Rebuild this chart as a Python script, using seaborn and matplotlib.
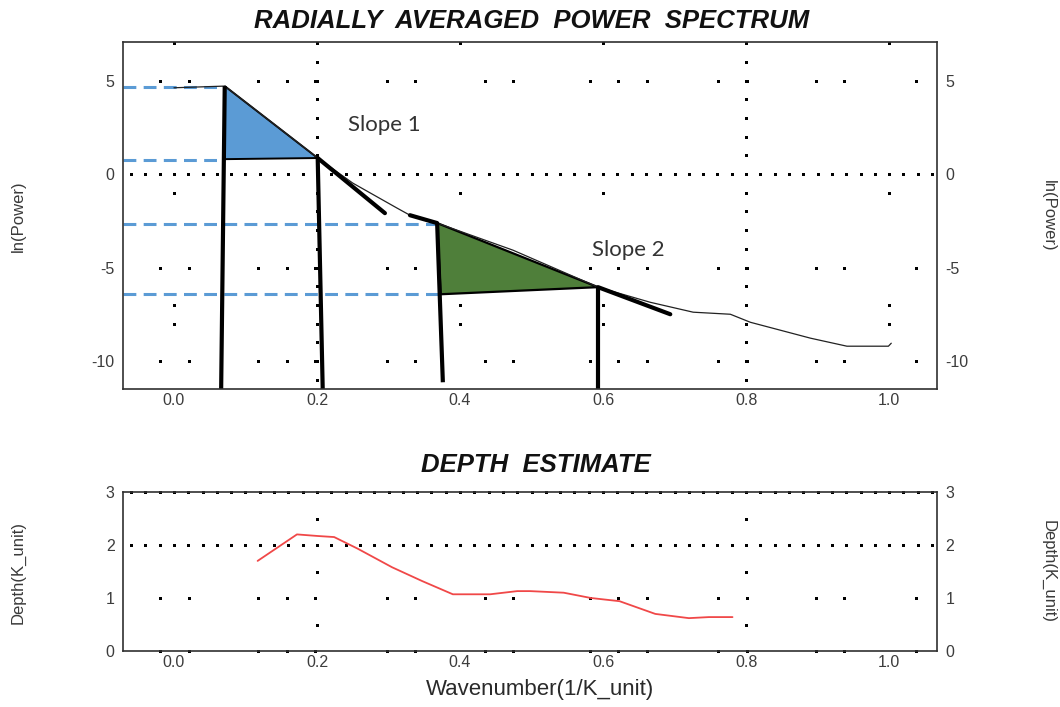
import numpy as np
import pandas as pd
import matplotlib
matplotlib.use("Agg")
import matplotlib.pyplot as plt
import seaborn as sns

# ---- radially averaged power spectrum: wavenumber vs ln(power) ----
power_k = [0.0, 0.071, 0.201, 0.250, 0.312, 0.330, 0.368, 0.474, 0.593,
           0.666, 0.726, 0.778, 0.806, 0.890, 0.941, 0.999, 1.003]
power_ln = [4.62, 4.71, 0.86, -0.48, -1.82, -2.20, -2.62, -4.07, -6.05,
            -6.86, -7.39, -7.50, -7.93, -8.78, -9.21, -9.21, -9.05]

# ---- depth estimate ----
depth_k = [0.117, 0.172, 0.201, 0.224, 0.257, 0.305, 0.347, 0.390, 0.442,
           0.480, 0.498, 0.545, 0.583, 0.623, 0.673, 0.720, 0.748, 0.781]
depth_val = [1.70, 2.20, 2.17, 2.15, 1.93, 1.58, 1.32, 1.07, 1.07,
             1.13, 1.13, 1.10, 1.00, 0.94, 0.70, 0.62, 0.64, 0.64]

# ---- slope construction triangles ----
slope1_k = [0.071, 0.071, 0.201]
slope1_ln = [4.71, 0.80, 0.86]
slope1_ext_k = [0.201, 0.295]
slope1_ext_ln = [0.86, -2.09]

slope2_k = [0.368, 0.373, 0.593]
slope2_ln = [-2.62, -6.43, -6.05]
slope2_lead_k = [0.330, 0.368]
slope2_lead_ln = [-2.20, -2.62]
slope2_ext_k = [0.593, 0.694]
slope2_ext_ln = [-6.05, -7.50]

# drop lines from the triangle corners down to the axis
drop_k_top = [0.071, 0.201, 0.368, 0.593]
drop_ln_top = [4.71, 0.86, -2.62, -6.05]
drop_k_bottom = [0.066, 0.208, 0.376, 0.593]
drop_ln_bottom = [-11.5, -11.5, -11.14, -11.5]

# ln(Power) levels
level_ln = [4.68, 0.75, -2.68, -6.43]
level_k_end = [0.071, 0.068, 0.368, 0.373]

x_ticks = [0.0, 0.2, 0.4, 0.6, 0.8, 1.0]
x_ticklabels = ["0.0", "0.2", "0.4", "0.6", "0.8", "1.0"]
ln_ticks = [5, 0, -5, -10]
depth_ticks = [0, 1, 2, 3]

XLIM = (-0.0713, 1.067)
LN_LIM = (-11.5, 7.07)
DEPTH_LIM = (0.0, 3.0)

sns.set_theme(style="white")
plt.rcParams["font.family"] = ["Liberation Sans", "DejaVu Sans"]
plt.rcParams["axes.unicode_minus"] = False

DPI = 100
fig = plt.figure(figsize=(10.6, 7.07), dpi=DPI)
ax1 = fig.add_axes([0.116, 0.4498, 0.768, 0.4908])
ax2 = fig.add_axes([0.116, 0.0792, 0.768, 0.2249])

DOT_PT = 3.0 * 72.0 / DPI


def dot_row(ax, y, xs):
    """Horizontal grid line rendered as a row of square dots."""
    ax.plot(xs, [y] * len(xs), ls="none", marker="s", ms=DOT_PT, mew=0,
            color="black", zorder=0.6, clip_on=False)


def dot_col(ax, x, ys):
    """Vertical grid line rendered as a column of square dots."""
    ax.plot([x] * len(ys), ys, ls="none", marker="s", ms=DOT_PT, mew=0,
            color="black", zorder=0.6, clip_on=False)


dense_k = list(np.round(np.arange(-0.06, 1.061, 0.02), 3))
sparse_k = [-0.020, 0.021, 0.117, 0.158, 0.197, 0.298, 0.337, 0.435, 0.474,
            0.582, 0.621, 0.662, 0.761, 0.801, 0.898, 0.937, 1.038]

# --- grid of the spectrum panel ---
dot_row(ax1, 0, dense_k)
for lvl in (5, -5, -10):
    dot_row(ax1, lvl, sparse_k)
for kx in (0.2, 0.8):
    dot_col(ax1, kx, list(range(-11, 8)))
for kx in (0.0, 0.4, 0.6, 1.0):
    dot_col(ax1, kx, [-8, -7, -1, 7])

# --- grid of the depth panel ---
for lvl in (3, 2):
    dot_row(ax2, lvl, dense_k)
for lvl in (1, 0):
    dot_row(ax2, lvl, sparse_k)
for kx in (0.2, 0.8):
    dot_col(ax2, kx, [0.5, 1.5, 2.5])

# --- spectrum panel content ---
ax1.fill(slope1_k, slope1_ln, facecolor="#5B9BD5", edgecolor="black",
         lw=1.4, zorder=2)
ax1.fill(slope2_k, slope2_ln, facecolor="#4F7F3A", edgecolor="black",
         lw=1.6, zorder=2)

ax1.hlines(level_ln, XLIM[0], level_k_end, colors="#5B9BD5", lw=2.2,
           linestyles=(0, (4.2, 2.4)), zorder=2.5)

spec = pd.DataFrame({"k": power_k, "ln": power_ln})
sns.lineplot(data=spec, x="k", y="ln", ax=ax1, color="#222222", lw=0.9,
             sort=False, zorder=3)

for kx, ly in ((slope1_ext_k, slope1_ext_ln), (slope2_lead_k, slope2_lead_ln),
               (slope2_ext_k, slope2_ext_ln)):
    ax1.plot(kx, ly, color="black", lw=3.0, solid_capstyle="round", zorder=4)

for kt, lt, kb, lb in zip(drop_k_top, drop_ln_top, drop_k_bottom, drop_ln_bottom):
    ax1.plot([kt, kb], [lt, lb], color="black", lw=3.0, solid_capstyle="butt",
             zorder=4, clip_on=False)

slope_font = ["Lato", "DejaVu Sans"]
ax1.text(0.243, 2.62, "Slope 1", fontsize=16, family=slope_font,
         color="#333333", va="center", ha="left", zorder=5)
ax1.text(0.585, -4.07, "Slope 2", fontsize=16, family=slope_font,
         color="#333333", va="center", ha="left", zorder=5)

# --- depth panel content ---
dep = pd.DataFrame({"k": depth_k, "d": depth_val})
sns.lineplot(data=dep, x="k", y="d", ax=ax2, color="#F04848", lw=1.3, zorder=3)

# --- axes styling ---
tick_color = "#3c3c3c"
for ax, yt, ylim in ((ax1, ln_ticks, LN_LIM), (ax2, depth_ticks, DEPTH_LIM)):
    ax.set_xlim(*XLIM)
    ax.set_ylim(*ylim)
    ax.set_xticks(x_ticks)
    ax.set_xticklabels(x_ticklabels)
    ax.set_yticks(yt)
    ax.set_xlabel("")
    ax.set_ylabel("")
    ax.grid(False)
    ax.tick_params(axis="both", length=0, labelsize=11.5, labelcolor=tick_color,
                   pad=3)
    ax.tick_params(axis="y", labelright=True, pad=6)
    for sp in ax.spines.values():
        sp.set_color("#303030")
        sp.set_linewidth(1.2)
        sp.set_zorder(6)

# titles and axis labels
title_kw = dict(ha="center", va="center", fontsize=18.5, fontweight="bold",
                fontstyle="italic", color="#111111")
fig.text(0.502, 1 - 21 / 707, "RADIALLY  AVERAGED  POWER  SPECTRUM", **title_kw)
fig.text(0.506, 1 - 465 / 707, "DEPTH  ESTIMATE", **title_kw)
fig.text(0.509, 1 - 689 / 707, "Wavenumber(1/K_unit)", ha="center",
         va="center", fontsize=16, color="#2a2a2a")

label_kw = dict(ha="center", va="center", fontsize=12, color="#3a3a3a")
fig.text(18 / 1060, 1 - 216 / 707, "ln(Power)", rotation=90, **label_kw)
fig.text(1048 / 1060, 1 - 216 / 707, "ln(Power)", rotation=270, **label_kw)
fig.text(18 / 1060, 1 - 572 / 707, "Depth(K_unit)", rotation=90, **label_kw)
fig.text(1048 / 1060, 1 - 572 / 707, "Depth(K_unit)", rotation=270, **label_kw)

fig.savefig("out.png", dpi=DPI, facecolor="white")
